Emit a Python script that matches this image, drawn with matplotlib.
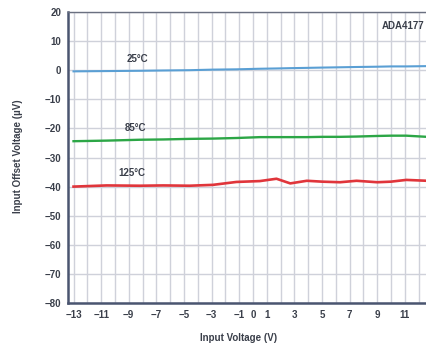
import matplotlib
matplotlib.use("Agg")
import matplotlib.pyplot as plt

plt.rcParams['font.family'] = ['Liberation Sans', 'DejaVu Sans']

# Input voltage sweep (V)
v_in = [-13, -10.6, -8.2, -6.5, -4.6, -2.9, -1.2, 0.5, 1.7, 2.7, 3.9, 5.0, 6.3, 7.5, 9.0, 10.0, 11.1, 12.6, 13.4]

# Input offset voltage (uV) at each temperature
vos_25 = [-0.4, -0.3, -0.2, -0.1, 0.0, 0.2, 0.3, 0.5, 0.6, 0.7, 0.8, 0.9, 1.0, 1.1, 1.2, 1.3, 1.3, 1.4, 1.4]
vos_85 = [-24.4, -24.2, -23.9, -23.8, -23.6, -23.5, -23.3, -23.0, -23.0, -23.0, -23.0, -22.9, -22.9, -22.8, -22.6, -22.5, -22.5, -22.9, -23.0]
vos_125 = [-40.0, -39.6, -39.7, -39.6, -39.7, -39.4, -38.4, -38.1, -37.3, -38.9, -38.0, -38.3, -38.5, -38.0, -38.5, -38.3, -37.7, -38.0, -38.1]

temps = ["25°C", "85°C", "125°C"]
label_x = [-8.4, -8.5, -8.8]
label_y = [4.0, -20.0, -35.4]

x_ticks = [-13, -11, -9, -7, -5, -3, -1, 0, 1, 3, 5, 7, 9, 11, 13]
y_ticks = list(range(-80, 21, 10))

W, H = 427, 348
fig = plt.figure(figsize=(W / 100, H / 100), dpi=100)
fig.patch.set_facecolor("white")
ax = fig.add_axes([68 / W, 1 - 303 / H, 370 / W, 291 / H])

ax.set_xlim(-13.4, 13.4)
ax.set_ylim(-80, 20)

# grid: every volt vertically, every 10 uV horizontally
for xv in range(-13, 14):
    ax.axvline(xv, color="#cfd1da", lw=1.0, zorder=1)
for yv in y_ticks:
    ax.axhline(yv, color="#cfd1da", lw=1.0, zorder=1)

ax.plot(v_in, vos_25, color="#5a9fd4", lw=1.5, zorder=3)
ax.plot(v_in, vos_85, color="#2ca646", lw=1.7, zorder=3)
ax.plot(v_in, vos_125, color="#e0353b", lw=1.9, zorder=3)

for t, lx, ly in zip(temps, label_x, label_y):
    ax.text(lx, ly, t, fontsize=7, fontweight="bold", color="#3a3f4a",
            ha="center", va="center", zorder=4)

ax.text(12.4, 15.3, "ADA4177", fontsize=7, fontweight="bold", color="#3a3f4a",
        ha="right", va="center", zorder=4)

ax.set_xticks(x_ticks)
ax.set_xticklabels([("\u2212" + str(-t)) if t < 0 else str(t) for t in x_ticks])
ax.set_yticks(y_ticks)
ax.set_yticklabels([("\u2212" + str(-t)) if t < 0 else str(t) for t in y_ticks])
ax.tick_params(length=0, labelsize=7, labelcolor="#3a3f4a", pad=5)
for lab in ax.get_xticklabels() + ax.get_yticklabels():
    lab.set_fontweight("bold")

for side in ["left", "bottom"]:
    ax.spines[side].set_color("#4a5570")
    ax.spines[side].set_linewidth(1.8)
ax.spines["top"].set_color("#6a7080")
ax.spines["top"].set_linewidth(1.0)
ax.spines["right"].set_visible(False)

fig.text(239 / W, 1 - 338 / H, "Input Voltage (V)", fontsize=7, fontweight="bold",
         color="#3a3f4a", ha="center", va="center")
fig.text(18 / W, 1 - 156 / H, "Input Offset Voltage (\u00b5V)", fontsize=7,
         fontweight="bold", color="#3a3f4a", ha="center", va="center", rotation=90)

fig.savefig("out.png", dpi=100)
